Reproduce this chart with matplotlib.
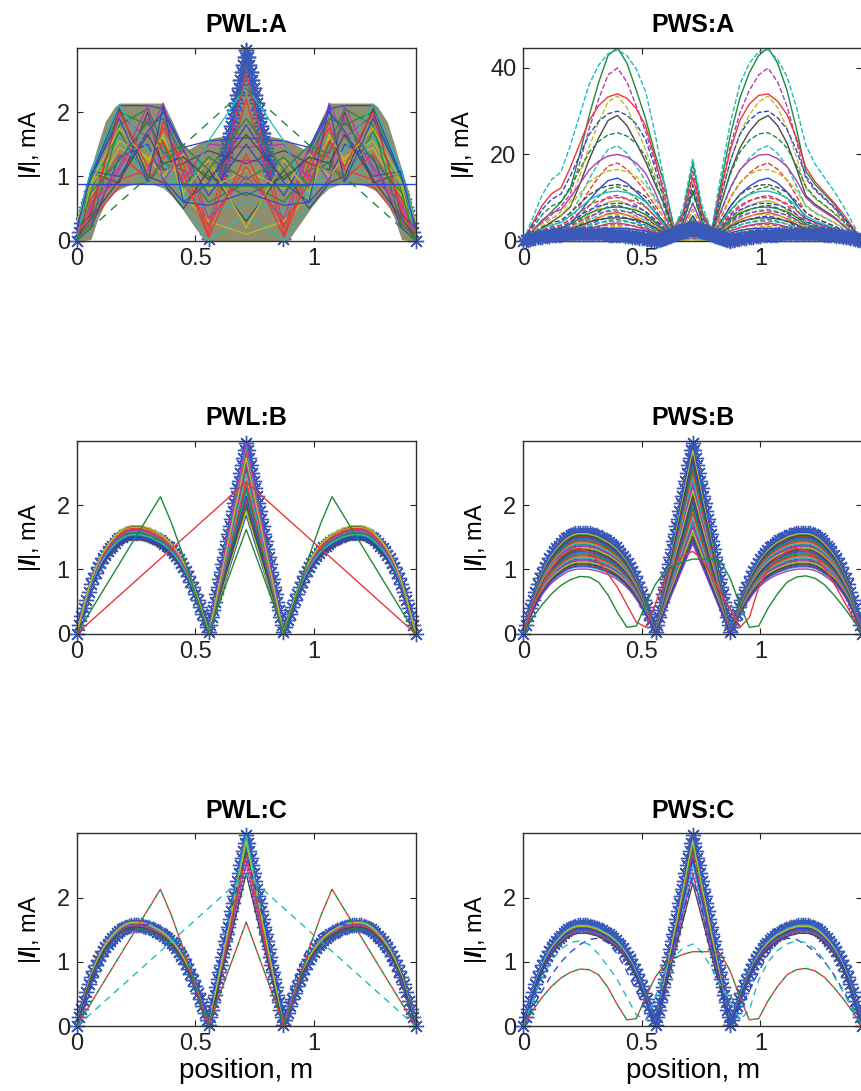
import numpy as np
import matplotlib
matplotlib.use("Agg")
import matplotlib.pyplot as plt

plt.rcParams['font.family'] = ['Liberation Sans', 'DejaVu Sans']
plt.rcParams['mathtext.fontset'] = 'custom'
plt.rcParams['mathtext.rm'] = 'Liberation Sans'
plt.rcParams['mathtext.it'] = 'Liberation Sans:italic'
plt.rcParams['mathtext.bf'] = 'Liberation Sans:bold'
plt.rcParams['mathtext.bfit'] = 'Liberation Sans:bold:italic'

LINE_LENGTH = 1.43  # m

# Reference current magnitude |I| (mA) along the line.
# Sampling: left lobe every 0.01 m, centre peak every ~0.006 m, right lobe every 0.01 m.
ref_lobe_left = [0.00, 0.14, 0.27, 0.40, 0.53, 0.65, 0.77, 0.86, 0.95, 1.03,
                 1.10, 1.17, 1.23, 1.28, 1.33, 1.37, 1.41, 1.45, 1.48, 1.51,
                 1.53, 1.55, 1.56, 1.57, 1.57, 1.57, 1.57, 1.57, 1.56, 1.55,
                 1.54, 1.53, 1.51, 1.49, 1.47, 1.45, 1.43, 1.40, 1.37, 1.34,
                 1.30, 1.26, 1.21, 1.16, 1.10, 1.04, 0.97, 0.89, 0.81, 0.72,
                 0.62, 0.52, 0.42, 0.31, 0.21, 0.10]
ref_peak_rise = [0.02, 0.14, 0.26, 0.37, 0.49, 0.61, 0.73, 0.85, 0.96, 1.08,
                 1.20, 1.32, 1.44, 1.55, 1.67, 1.79, 1.91, 2.03, 2.14, 2.26,
                 2.38, 2.50, 2.62, 2.73, 2.85, 2.97]
ref_peak_fall = [2.85, 2.73, 2.62, 2.50, 2.38, 2.26, 2.14, 2.03, 1.91, 1.79,
                 1.67, 1.55, 1.44, 1.32, 1.20, 1.08, 0.96, 0.85, 0.73, 0.61,
                 0.49, 0.37, 0.26, 0.14, 0.02]
ref_lobe_right = [0.10, 0.21, 0.31, 0.42, 0.52, 0.62, 0.72, 0.81, 0.89, 0.97,
                  1.04, 1.10, 1.16, 1.21, 1.26, 1.30, 1.34, 1.37, 1.40, 1.43,
                  1.45, 1.47, 1.49, 1.51, 1.53, 1.54, 1.55, 1.56, 1.57, 1.57,
                  1.57, 1.57, 1.57, 1.56, 1.55, 1.53, 1.51, 1.48, 1.45, 1.41,
                  1.37, 1.33, 1.28, 1.23, 1.17, 1.10, 1.03, 0.95, 0.86, 0.77,
                  0.65, 0.53, 0.40, 0.27, 0.14, 0.00]

# Alternative solutions, 37 samples along the line
pws_alt1 = [0.00, 0.40, 0.75, 1.02, 1.20, 1.30, 1.33, 1.27, 1.12, 0.93,
            0.72, 0.45, 0.18, 0.10, 0.45, 0.85, 1.08, 1.22, 1.28, 1.15,
            0.90, 0.62, 0.38, 0.10, 0.25, 0.72, 1.00, 1.18, 1.28, 1.33,
            1.30, 1.20, 1.02, 0.78, 0.52, 0.26, 0.00]
pws_alt2 = [0.00, 0.25, 0.45, 0.62, 0.75, 0.84, 0.89, 0.88, 0.80, 0.60,
            0.33, 0.10, 0.12, 0.45, 0.76, 0.96, 1.06, 1.12, 1.16, 1.16,
            1.16, 1.12, 0.85, 0.45, 0.10, 0.12, 0.40, 0.62, 0.80, 0.88,
            0.90, 0.86, 0.76, 0.60, 0.42, 0.22, 0.00]
pws_alt3 = [0.00, 0.30, 0.55, 0.80, 1.00, 1.15, 1.27, 1.35, 1.37, 1.30,
            1.12, 0.85, 0.55, 0.28, 0.10, 0.65, 1.25, 1.80, 2.30, 1.80,
            1.25, 0.65, 0.10, 0.28, 0.55, 0.85, 1.12, 1.30, 1.37, 1.35,
            1.27, 1.15, 1.00, 0.80, 0.55, 0.30, 0.00]
pwl_alt3 = [0.00, 0.45, 0.80, 1.07, 1.28, 1.42, 1.52, 1.58, 1.58, 1.52,
            1.45, 1.34, 1.05, 0.65, 0.15, 0.85, 1.55, 2.15, 2.70, 2.15,
            1.55, 0.85, 0.15, 0.65, 1.05, 1.34, 1.45, 1.52, 1.58, 1.58,
            1.52, 1.42, 1.28, 1.07, 0.80, 0.45, 0.00]

# Piecewise-linear solutions given by their breakpoints
tri_wide_x = [0.0, 0.715, 1.43]
tri_wide_y = [0.0, 2.36, 0.0]
tri_peaky_x = [0.0, 0.353, 0.40, 0.45, 0.50, 0.556, 0.715, 0.874, 0.93, 0.98, 1.03, 1.077, 1.43]
tri_peaky_y = [0.0, 2.13, 1.72, 1.20, 0.62, 0.02, 1.62, 0.02, 0.62, 1.20, 1.72, 2.13, 0.0]

# PWL:A - envelope of the full solution set
pwl_a_env_x = [0.00, 0.03, 0.06, 0.09, 0.12, 0.16, 0.18, 0.23, 0.30, 0.365,
               0.40, 0.44, 0.47, 0.50, 0.54, 0.58, 0.62, 0.66, 0.69, 0.715,
               0.74, 0.77, 0.81, 0.85, 0.89, 0.93, 0.96, 0.99, 1.03, 1.065,
               1.13, 1.20, 1.25, 1.27, 1.31, 1.34, 1.37, 1.40, 1.43]
pwl_a_env_hi = [0.30, 0.75, 1.12, 1.50, 1.85, 2.08, 2.14, 2.14, 2.14, 2.14,
                1.88, 1.55, 1.42, 1.48, 1.56, 1.60, 1.63, 1.70, 2.40, 2.85,
                2.40, 1.70, 1.63, 1.60, 1.56, 1.48, 1.42, 1.55, 1.88, 2.14,
                2.14, 2.14, 2.14, 2.08, 1.85, 1.50, 1.12, 0.75, 0.30]
pwl_a_env_lo = [0.00, 0.00, 0.02, 0.35, 0.58, 0.75, 0.80, 0.88, 0.90, 0.82,
                0.70, 0.52, 0.36, 0.20, 0.00, 0.00, 0.00, 0.00, 0.00, 0.00,
                0.00, 0.00, 0.00, 0.00, 0.00, 0.20, 0.36, 0.52, 0.70, 0.82,
                0.90, 0.88, 0.80, 0.75, 0.58, 0.35, 0.02, 0.00, 0.00]
# a sample of individual PWL:A solutions at their breakpoints
pwl_a_knots = [0.0, 0.06, 0.18, 0.30, 0.365, 0.45, 0.556, 0.715, 0.874, 0.98, 1.065, 1.13, 1.25, 1.37, 1.43]
pwl_a_fan = [
    [0.05, 1.00, 2.10, 2.10, 2.05, 1.45, 1.55, 1.60, 1.55, 1.45, 2.05, 2.10, 2.10, 1.00, 0.05],
    [0.10, 0.80, 1.70, 0.90, 1.20, 1.10, 0.60, 0.90, 0.60, 1.10, 1.20, 0.90, 1.70, 0.80, 0.10],
    [0.00, 0.30, 0.85, 0.90, 1.30, 1.40, 0.20, 2.60, 0.20, 1.40, 1.30, 0.90, 0.85, 0.30, 0.00],
    [0.20, 1.10, 1.20, 0.90, 0.85, 0.55, 0.00, 0.40, 0.00, 0.55, 0.85, 0.90, 1.20, 1.10, 0.20],
    [0.00, 0.50, 1.95, 1.60, 2.14, 1.00, 1.20, 1.25, 1.20, 1.00, 2.14, 1.60, 1.95, 0.50, 0.00],
    [0.05, 0.70, 1.45, 1.20, 1.60, 0.70, 0.30, 0.10, 0.30, 0.70, 1.60, 1.20, 1.45, 0.70, 0.05],
    [0.25, 1.05, 0.90, 2.00, 1.10, 1.20, 1.40, 1.20, 1.40, 1.20, 1.10, 2.00, 0.90, 1.05, 0.25],
    [0.00, 0.20, 1.30, 1.50, 0.95, 0.60, 0.90, 1.80, 0.90, 0.60, 0.95, 1.50, 1.30, 0.20, 0.00],
    [0.10, 0.95, 2.00, 1.80, 1.90, 1.30, 1.00, 0.70, 1.00, 1.30, 1.90, 1.80, 2.00, 0.95, 0.10],
    [0.02, 0.60, 0.95, 1.10, 1.75, 1.20, 0.10, 2.20, 0.10, 1.20, 1.75, 1.10, 0.95, 0.60, 0.02],
    [0.30, 1.00, 1.60, 0.95, 1.00, 0.80, 0.45, 0.60, 0.45, 0.80, 1.00, 0.95, 1.60, 1.00, 0.30],
    [0.15, 0.40, 1.10, 1.90, 1.40, 0.95, 1.50, 1.45, 1.50, 0.95, 1.40, 1.90, 1.10, 0.40, 0.15],
    [0.00, 0.85, 1.55, 1.30, 1.00, 1.35, 0.80, 1.10, 0.80, 1.35, 1.00, 1.30, 1.55, 0.85, 0.00],
    [0.20, 0.40, 2.05, 1.00, 0.90, 0.50, 1.10, 0.30, 1.10, 0.50, 0.90, 1.00, 2.05, 0.40, 0.20],
    [0.10, 1.08, 1.00, 1.70, 2.00, 1.40, 0.70, 1.50, 0.70, 1.40, 2.00, 1.70, 1.00, 1.08, 0.10],
    [0.05, 0.25, 1.80, 2.05, 1.50, 0.85, 1.30, 0.95, 1.30, 0.85, 1.50, 2.05, 1.80, 0.25, 0.05],
    [0.25, 0.65, 1.35, 0.95, 1.85, 1.05, 0.05, 1.35, 0.05, 1.05, 1.85, 0.95, 1.35, 0.65, 0.25],
    [0.00, 1.10, 2.12, 1.40, 1.25, 0.65, 1.55, 2.40, 1.55, 0.65, 1.25, 1.40, 2.12, 1.10, 0.00],
    [0.15, 0.55, 1.15, 2.10, 0.90, 1.45, 0.35, 1.00, 0.35, 1.45, 0.90, 2.10, 1.15, 0.55, 0.15],
    [0.30, 0.90, 1.75, 1.25, 1.65, 0.75, 1.25, 0.20, 1.25, 0.75, 1.65, 1.25, 1.75, 0.90, 0.30],
    [0.05, 0.35, 0.95, 1.65, 1.20, 1.30, 0.95, 1.65, 0.95, 1.30, 1.20, 1.65, 0.95, 0.35, 0.05],
    [0.20, 1.00, 1.90, 0.92, 2.10, 0.60, 0.55, 0.75, 0.55, 0.60, 2.10, 0.92, 1.90, 1.00, 0.20],
    [0.00, 0.75, 1.25, 1.85, 1.35, 1.48, 1.10, 1.90, 1.10, 1.48, 1.35, 1.85, 1.25, 0.75, 0.00],
    [0.10, 0.45, 2.00, 1.15, 1.55, 0.90, 0.25, 1.15, 0.25, 0.90, 1.55, 1.15, 2.00, 0.45, 0.10],
]
pwl_a_level = 0.88

# PWS:A - dome-shaped solutions: amplitudes (mA) and unit profiles
pws_a_amp = [44.7, 44.2, 40.0, 34.0, 33.5, 30.0, 29.0, 25.0, 22.0, 20.0,
             18.0, 16.5, 14.5, 13.0, 12.5, 11.5, 10.5, 10.0, 9.3, 8.7,
             8.2, 7.8, 7.3, 6.9, 6.5, 6.1, 5.7, 5.3, 4.9, 4.5,
             4.1, 3.7, 3.3, 2.9, 2.5, 2.1, 1.7, 1.3, 0.9, 0.5]
pws_a_narrow = [0.00, 0.05, 0.10, 0.15, 0.20, 0.27, 0.45, 0.65, 0.82, 0.96,
                1.00, 0.92, 0.78, 0.63, 0.45, 0.29, 0.07, 0.15, 0.40, 0.15,
                0.05, 0.30, 0.55, 0.74, 0.87, 0.96, 1.00, 0.92, 0.78, 0.58,
                0.36, 0.29, 0.24, 0.19, 0.12, 0.06, 0.00]
pws_a_wide = [0.00, 0.12, 0.24, 0.32, 0.36, 0.50, 0.66, 0.82, 0.92, 0.98,
              1.00, 0.97, 0.90, 0.78, 0.56, 0.30, 0.06, 0.18, 0.43, 0.18,
              0.06, 0.35, 0.62, 0.82, 0.93, 0.99, 1.00, 0.95, 0.86, 0.70,
              0.50, 0.40, 0.33, 0.26, 0.18, 0.09, 0.00]

# Scaled solutions around the reference: side-lobe and centre-peak factors
pwl_b_lobe = [0.94, 0.96, 0.98, 1.00, 1.02, 1.04, 1.06, 0.95, 0.97, 0.99,
              1.01, 1.03, 1.05, 0.93, 0.96, 1.00, 1.04, 0.98, 1.02, 1.07]
pwl_b_peak = [0.62, 0.66, 0.70, 0.74, 0.78, 0.82, 0.86, 0.90, 0.93, 0.96,
              0.98, 1.00, 0.64, 0.68, 0.72, 0.76, 0.80, 0.84, 0.88, 0.92]
pws_b_lobe = [1.00, 0.98, 0.96, 0.94, 0.92, 0.90, 0.88, 0.86, 0.84, 0.82,
              0.80, 0.78, 0.76, 0.74, 0.72, 0.70, 0.68, 0.66, 0.64, 0.99,
              0.97, 0.95, 0.93, 0.91, 0.89, 0.87, 0.85, 0.83, 0.81, 0.79,
              0.77, 0.75, 0.73, 0.71, 0.69, 0.67]
pws_b_peak = [0.98, 0.95, 0.92, 0.89, 0.86, 0.83, 0.80, 0.77, 0.74, 0.71,
              0.68, 0.65, 0.62, 0.59, 0.56, 0.53, 0.50, 0.48, 0.47, 0.96,
              0.93, 0.90, 0.87, 0.84, 0.81, 0.78, 0.75, 0.72, 0.69, 0.66,
              0.63, 0.60, 0.57, 0.54, 0.51, 0.49]
pwl_c_lobe = [0.97, 1.00, 1.02, 0.99, 1.03, 0.98]
pwl_c_peak = [0.95, 0.90, 1.00, 0.85, 0.97, 0.80]
pws_c_lobe = [0.96, 0.98, 1.00, 0.94, 0.99, 0.92, 0.97]
pws_c_peak = [0.95, 0.90, 0.85, 0.80, 0.97, 0.75, 0.88]

# ---------------------------------------------------------------------------
MATLAB = {'b': '#2e48cc', 'g': '#1e8a3c', 'r': '#e8383a', 'c': '#20bcbc',
          'm': '#b03cb0', 'y': '#bcbc26', 'k': '#4a4a4a'}
CYCLE = [MATLAB[c] for c in 'bgrcmyk']
STAR = '#3a58b8'

ref = np.array(ref_lobe_left + ref_peak_rise + ref_peak_fall + ref_lobe_right)
x_ref = np.concatenate([np.linspace(0.0, 0.55, len(ref_lobe_left)),
                        np.linspace(0.558, 0.715, len(ref_peak_rise)),
                        np.linspace(0.721, 0.872, len(ref_peak_fall)),
                        np.linspace(0.88, LINE_LENGTH, len(ref_lobe_right))])
x_coarse = np.linspace(0, LINE_LENGTH, len(pws_alt1))
centre = (x_ref > 0.555) & (x_ref < 0.875)
n_left = len(ref_lobe_left)
peak_slice = slice(n_left + 8, n_left + len(ref_peak_rise) + 17)


def scaled_ref(lobe, peak):
    return ref * np.where(centre, peak, lobe)


def stars(ax, y, sl=slice(None), z=1):
    ax.plot(x_ref[sl], np.asarray(y)[sl], '-', color=STAR, lw=0.8,
            marker=(8, 2, 0), ms=11, mew=1.0, clip_on=False, zorder=z)


W, H = 861.0, 1091.0
fig = plt.figure(figsize=(W / 100, H / 100), dpi=100)
AX_W, AX_H = 339.0, 193.0


def make_axes(left_px, top_px, title, ymax, yticks, xlabel=False):
    ax = fig.add_axes([left_px / W, 1 - (top_px + AX_H) / H, AX_W / W, AX_H / H])
    ax.set_xlim(0, LINE_LENGTH)
    ax.set_ylim(0, ymax)
    ax.set_xticks([0, 0.5, 1])
    ax.set_xticklabels(['0', '0.5', '1'])
    ax.set_yticks(yticks)
    ax.set_yticklabels([str(t) for t in yticks])
    ax.tick_params(direction='in', top=True, right=True, length=4, width=0.8,
                   labelsize=17, pad=5, colors='#222222')
    for s in ax.spines.values():
        s.set_linewidth(1.0)
        s.set_color('#303030')
    ax.set_title(title, fontsize=18, fontweight='bold', pad=11)
    ax.set_ylabel(r'|$\mathbfit{I}$|, mA', fontsize=17, labelpad=10)
    if xlabel:
        ax.set_xlabel('position, m', fontsize=20, labelpad=2)
    return ax


LEFT, RIGHT = 76.7, 523.3
TOPS = [47.7, 440.7, 833.3]

# ---- PWL:A ----
ax = make_axes(LEFT, TOPS[0], 'PWL:A', 3.0, [0, 1, 2])
stars(ax, ref, z=1)
ax.fill_between(pwl_a_env_x, pwl_a_env_lo, pwl_a_env_hi, color='#8f8e6e',
                lw=0, zorder=2)
stars(ax, ref, peak_slice, z=2.5)
for k, row in enumerate(pwl_a_fan):
    ax.plot(pwl_a_knots, row, color=CYCLE[k % 7], lw=0.9, zorder=3)
ax.plot([0, LINE_LENGTH], [pwl_a_level, pwl_a_level], color=MATLAB['b'], lw=1.0, zorder=3.5)
ax.plot([0.45, 0.98], [0.85, 0.85], color=MATLAB['g'], lw=1.2, zorder=3.5)
ax.plot(tri_wide_x, tri_wide_y, color=MATLAB['g'], lw=1.0, dashes=(6, 5), zorder=3.6)

# ---- PWS:A ----
ax = make_axes(RIGHT, TOPS[0], 'PWS:A', 44.7, [0, 20, 40])
order = 'gcmrybk'
for k, amp in enumerate(pws_a_amp):
    shape = np.array(pws_a_wide if k % 2 else pws_a_narrow)
    ls = '-' if k % 3 == 0 else '--'
    ax.plot(x_coarse, amp * shape, color=MATLAB[order[k % 7]], lw=1.0,
            ls=ls, zorder=2)
stars(ax, ref, z=3)

# ---- PWL:B ----
ax = make_axes(LEFT, TOPS[1], 'PWL:B', 3.0, [0, 1, 2])
stars(ax, ref, z=1)
for k, (sl, sp) in enumerate(zip(pwl_b_lobe, pwl_b_peak)):
    ax.plot(x_ref, scaled_ref(sl, sp), color=CYCLE[k % 7], lw=1.0, zorder=2)
ax.plot(tri_wide_x, tri_wide_y, color=MATLAB['r'], lw=1.0, zorder=3)
ax.plot(tri_peaky_x, tri_peaky_y, color=MATLAB['g'], lw=1.0, zorder=3)

# ---- PWS:B ----
ax = make_axes(RIGHT, TOPS[1], 'PWS:B', 3.0, [0, 1, 2])
stars(ax, ref, z=1)
for k, (sl, sp) in enumerate(zip(pws_b_lobe, pws_b_peak)):
    ax.plot(x_ref, scaled_ref(sl, sp), color=CYCLE[k % 7], lw=1.0, zorder=2)
ax.plot(x_coarse, pws_alt1, color=MATLAB['r'], lw=1.0, zorder=3)
ax.plot(x_coarse, pws_alt2, color=MATLAB['g'], lw=1.0, zorder=3)

# ---- PWL:C ----
ax = make_axes(LEFT, TOPS[2], 'PWL:C', 3.0, [0, 1, 2], xlabel=True)
stars(ax, ref, z=1)
for k, (sl, sp) in enumerate(zip(pwl_c_lobe, pwl_c_peak)):
    ax.plot(x_ref, scaled_ref(sl, sp), color=CYCLE[(k + 1) % 7], lw=1.0, zorder=2)
ax.plot(x_coarse, pwl_alt3, color=MATLAB['b'], lw=1.0, ls=(0, (5, 4)), zorder=3)
ax.plot(tri_wide_x, tri_wide_y, color=MATLAB['c'], lw=1.0, ls=(0, (5, 4)), zorder=3)
ax.plot(tri_peaky_x, tri_peaky_y, color=MATLAB['g'], lw=1.0, ls=(0, (4.5, 4.5)), zorder=3)
ax.plot(tri_peaky_x, tri_peaky_y, color=MATLAB['r'], lw=1.0, ls=(4.5, (4.5, 4.5)), zorder=3.1)

# ---- PWS:C ----
ax = make_axes(RIGHT, TOPS[2], 'PWS:C', 3.0, [0, 1, 2], xlabel=True)
stars(ax, ref, z=1)
for k, (sl, sp) in enumerate(zip(pws_c_lobe, pws_c_peak)):
    ax.plot(x_ref, scaled_ref(sl, sp), color=CYCLE[(k + 1) % 7], lw=1.0, zorder=2)
ax.plot(x_coarse, pws_alt3, color=MATLAB['b'], lw=1.0, ls=(0, (5, 4)), zorder=3)
ax.plot(x_coarse, pws_alt1, color=MATLAB['c'], lw=1.0, ls=(0, (5, 4)), zorder=3)
ax.plot(x_coarse, pws_alt2, color=MATLAB['g'], lw=1.0, ls=(0, (4.5, 4.5)), zorder=3)
ax.plot(x_coarse, pws_alt2, color=MATLAB['r'], lw=1.0, ls=(4.5, (4.5, 4.5)), zorder=3.1)

fig.savefig('out.png', dpi=100)
